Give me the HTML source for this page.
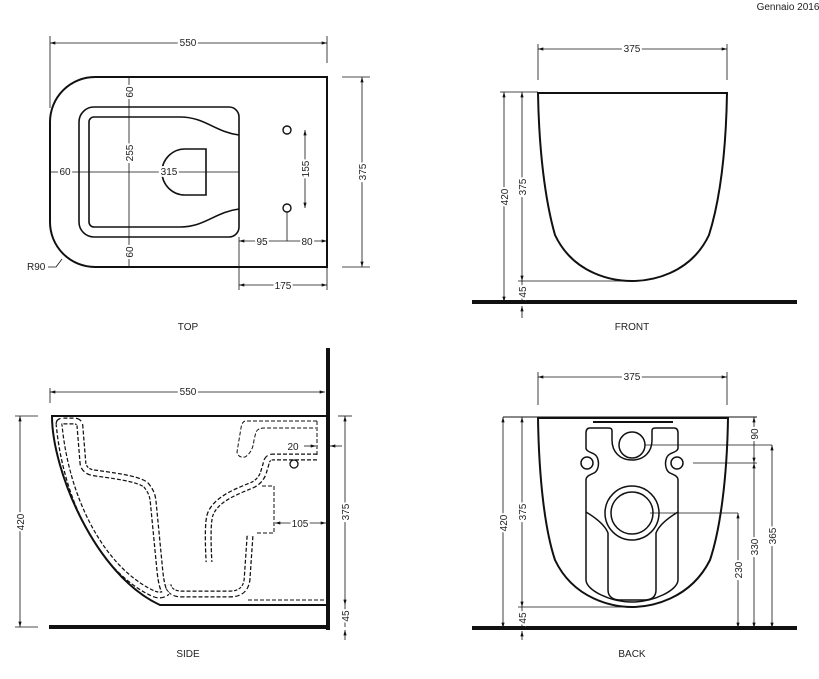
<!DOCTYPE html>
<html><head><meta charset="utf-8"><style>
html,body{margin:0;padding:0;background:#fff;}
svg{display:block;}
text{font-family:"Liberation Sans",sans-serif;font-size:10px;fill:#222;}
</style></head><body>
<svg width="819" height="679" viewBox="0 0 819 679" xmlns="http://www.w3.org/2000/svg">
<defs>
<marker id="a" viewBox="0 0 10 6" refX="10" refY="3" markerWidth="8" markerHeight="4" orient="auto-start-reverse"><path d="M0,0 L10,3 L0,6 Z" fill="#111"/></marker>
</defs>
<text x="788" y="10" text-anchor="middle" font-size="9">Gennaio 2016</text>

<g stroke="#111" fill="none">
<!-- TOP -->
<path d="M327,77 H95 A45,45 0 0 0 50,122 V222 A45,45 0 0 0 95,267 H327 Z" stroke-width="2"/>
<path d="M229,107 H94 A15,15 0 0 0 79,122 V222 A15,15 0 0 0 94,237 H229 A10,10 0 0 0 239,227 V117 A10,10 0 0 0 229,107" stroke-width="1.6"/>
<path d="M239,135 C215,132 205,117 180,117 H94 A5,5 0 0 0 89,122 V222 A5,5 0 0 0 94,227 H180 C205,227 215,212 239,209" stroke-width="1.6"/>
<path d="M206,149 H185 A23,23 0 0 0 185,195 H206 Z" stroke-width="1.6"/>
<circle cx="287" cy="130" r="4" stroke-width="1.4"/>
<circle cx="287" cy="208" r="4" stroke-width="1.4"/>
<g stroke-width="0.8">
<line x1="50" y1="43" x2="327" y2="43" marker-start="url(#a)" marker-end="url(#a)"/>
<line x1="50" y1="36" x2="50" y2="108"/><line x1="327" y1="36" x2="327" y2="63"/>
<line x1="362" y1="77" x2="362" y2="267" marker-start="url(#a)" marker-end="url(#a)"/>
<line x1="342" y1="77" x2="370" y2="77"/><line x1="342" y1="267" x2="370" y2="267"/>
<line x1="129" y1="77" x2="129" y2="267"/>
<line x1="50" y1="172" x2="239" y2="172"/>
<line x1="305" y1="130" x2="305" y2="208" marker-start="url(#a)" marker-end="url(#a)"/>
<line x1="239" y1="241" x2="327" y2="241" marker-start="url(#a)" marker-end="url(#a)"/>
<line x1="287" y1="212" x2="287" y2="241"/>
<line x1="239" y1="237" x2="239" y2="290"/><line x1="327" y1="267" x2="327" y2="290"/>
<line x1="239" y1="285" x2="327" y2="285" marker-start="url(#a)" marker-end="url(#a)"/>
<path d="M48,267 H56 L62,259"/>
</g>
</g>
<g>
<text x="188" y="46" text-anchor="middle" fill="#222" stroke="#fff" stroke-width="4" paint-order="stroke">550</text>
<text transform="translate(366,172) rotate(-90)" text-anchor="middle" stroke="#fff" stroke-width="4" paint-order="stroke">375</text>
<text transform="translate(133,92) rotate(-90)" text-anchor="middle" stroke="#fff" stroke-width="4" paint-order="stroke">60</text>
<text transform="translate(133,153) rotate(-90)" text-anchor="middle" stroke="#fff" stroke-width="4" paint-order="stroke">255</text>
<text transform="translate(133,252) rotate(-90)" text-anchor="middle" stroke="#fff" stroke-width="4" paint-order="stroke">60</text>
<text x="65" y="175" text-anchor="middle" stroke="#fff" stroke-width="4" paint-order="stroke">60</text>
<text x="169" y="175" text-anchor="middle" stroke="#fff" stroke-width="4" paint-order="stroke">315</text>
<text transform="translate(309,169) rotate(-90)" text-anchor="middle" stroke="#fff" stroke-width="4" paint-order="stroke">155</text>
<text x="262" y="245" text-anchor="middle" stroke="#fff" stroke-width="4" paint-order="stroke">95</text>
<text x="307" y="245" text-anchor="middle" stroke="#fff" stroke-width="4" paint-order="stroke">80</text>
<text x="283" y="289" text-anchor="middle" stroke="#fff" stroke-width="4" paint-order="stroke">175</text>
<text x="27" y="270">R90</text>
<text x="188" y="330" text-anchor="middle">TOP</text>
<text x="632" y="330" text-anchor="middle">FRONT</text>
<text x="188" y="657" text-anchor="middle">SIDE</text>
<text x="632" y="657" text-anchor="middle">BACK</text>
</g>

<!-- FRONT -->
<g stroke="#111" fill="none">
<line x1="472" y1="302" x2="797" y2="302" stroke-width="4"/>
<path d="M538,93 L727,93 C726,150 720,200 709,235 C690,275 650,281 632,281 C614,281 574,275 555,235 C545,200 539,150 538,93 Z" stroke-width="2"/>
<g stroke-width="0.8">
<line x1="538" y1="49" x2="727" y2="49" marker-start="url(#a)" marker-end="url(#a)"/>
<line x1="538" y1="44" x2="538" y2="80"/><line x1="727" y1="44" x2="727" y2="80"/>
<line x1="500" y1="92" x2="538" y2="92"/><line x1="518" y1="281" x2="632" y2="281"/>
<line x1="504" y1="92" x2="504" y2="302" marker-start="url(#a)" marker-end="url(#a)"/>
<line x1="522" y1="92" x2="522" y2="281" marker-start="url(#a)" marker-end="url(#a)"/>
<line x1="522" y1="281" x2="522" y2="302"/><line x1="522" y1="318" x2="522" y2="306" marker-end="url(#a)"/>
</g>
</g>
<text x="632" y="52" text-anchor="middle" stroke="#fff" stroke-width="4" paint-order="stroke">375</text>
<text transform="translate(508,197) rotate(-90)" text-anchor="middle" stroke="#fff" stroke-width="4" paint-order="stroke">420</text>
<text transform="translate(526,187) rotate(-90)" text-anchor="middle" stroke="#fff" stroke-width="4" paint-order="stroke">375</text>
<text transform="translate(526,292) rotate(-90)" text-anchor="middle" stroke="#fff" stroke-width="4" paint-order="stroke">45</text>

<!-- SIDE -->
<g stroke="#111" fill="none">
<line x1="328" y1="348" x2="328" y2="630" stroke-width="4"/>
<line x1="49" y1="627" x2="330" y2="627" stroke-width="4"/>
<g stroke-width="7" stroke-dasharray="4,2" stroke-linejoin="round">
<path id="c1" d="M59,424 Q59,421 63,421 H74 Q80,421 80,427 L83,464 Q85,472 95,473 C125,477 140,480 146,485 Q152,492 153,500 L160,572 Q162,590 166,593 Q160,597 152,593 C102,569 66,500 59,424"/>
<path id="c2" d="M317,457 H273 Q267,457 266,464 L263,474 Q259,483 250,486 C235,492 215,500 210,515 Q207,525 209,562"/>
<path id="c3" d="M250,536 L247,580 Q245,594 230,594 H182 Q170,594 168,585"/>
</g>
<g stroke="#fff" stroke-width="4.5">
<use href="#c1"/><use href="#c2"/><use href="#c3"/>
</g>
<path d="M326,416 H52 C52,470 95,575 160,605 H326" stroke-width="2"/>
<g stroke-width="1" stroke-dasharray="4,2">
<path d="M317,421 H246 Q242,421 241,428 L237,452 Q238,458 245,457 Q253,452 254,440 L256,432 Q258,428 264,428 H316"/>
<path d="M317,421 V457"/>
<path d="M274,486 V533 H256"/>
<path d="M262,486 H274"/>
<path d="M248,600 H326"/>
</g>
<circle cx="294" cy="464" r="4" stroke-width="1.3"/>
<g stroke-width="0.8">
<line x1="50" y1="392" x2="325" y2="392" marker-start="url(#a)" marker-end="url(#a)"/>
<line x1="50" y1="388" x2="50" y2="403"/>
<line x1="15" y1="416" x2="38" y2="416"/><line x1="15" y1="627" x2="38" y2="627"/>
<line x1="20" y1="416" x2="20" y2="627" marker-start="url(#a)" marker-end="url(#a)"/>
<line x1="338" y1="416" x2="352" y2="416"/>
<line x1="345" y1="416" x2="345" y2="605" marker-start="url(#a)" marker-end="url(#a)"/>
<line x1="345" y1="605" x2="345" y2="627"/><line x1="345" y1="640" x2="345" y2="630" marker-end="url(#a)"/>
<line x1="304" y1="446" x2="316" y2="446" marker-end="url(#a)"/>
<line x1="342" y1="446" x2="330" y2="446" marker-end="url(#a)"/>
<line x1="275" y1="523" x2="326" y2="523" marker-start="url(#a)" marker-end="url(#a)"/>
</g>
</g>
<text x="188" y="395" text-anchor="middle" stroke="#fff" stroke-width="4" paint-order="stroke">550</text>
<text transform="translate(24,522) rotate(-90)" text-anchor="middle" stroke="#fff" stroke-width="4" paint-order="stroke">420</text>
<text transform="translate(349,512) rotate(-90)" text-anchor="middle" stroke="#fff" stroke-width="4" paint-order="stroke">375</text>
<text transform="translate(349,616) rotate(-90)" text-anchor="middle" stroke="#fff" stroke-width="4" paint-order="stroke">45</text>
<text x="293" y="450" text-anchor="middle">20</text>
<text x="300" y="527" text-anchor="middle" stroke="#fff" stroke-width="4" paint-order="stroke">105</text>

<!-- BACK -->
<g stroke="#111" fill="none">
<line x1="472" y1="628" x2="797" y2="628" stroke-width="4"/>
<line x1="503" y1="417" x2="757" y2="417" stroke-width="1"/>
<path d="M538,418 L728,418 C727,480 720,530 710,560 C690,600 650,607 632,607 C614,607 574,600 555,560 C545,530 539,480 538,418 Z" stroke-width="2"/>
<line x1="593" y1="422" x2="673" y2="422" stroke-width="2"/>
<g stroke-width="1.5">
<path d="M612,431 C612,428 610,428 608,428 H590 C587,428 586,430 586,433 V448 C586,451 590,452 594,454 C600,457 600,470 594,473 C590,475 586,476 586,480 V580 C586,590 610,602 632,602 C654,602 678,590 678,580 V480 C678,476 674,475 670,473 C664,470 664,457 670,454 C674,452 678,451 678,448 V433 C678,430 677,428 674,428 H656 C654,428 652,428 652,431 V440 C652,452 644,460 632,460 C620,460 612,452 612,440 Z"/>
<circle cx="632" cy="445" r="13"/>
<circle cx="587" cy="463" r="6"/><circle cx="677" cy="463" r="6"/>
<circle cx="632" cy="513" r="27"/><circle cx="632" cy="513" r="21"/>
<path d="M586,512 C596,518 605,525 608,533 V590 C608,598 615,600 620,600 H644 C650,600 656,598 656,590 V533 C659,525 668,518 678,512"/>
</g>
<g stroke-width="0.8">
<line x1="538" y1="377" x2="727" y2="377" marker-start="url(#a)" marker-end="url(#a)"/>
<line x1="538" y1="372" x2="538" y2="405"/><line x1="727" y1="372" x2="727" y2="405"/>
<line x1="503" y1="417" x2="503" y2="628" marker-start="url(#a)" marker-end="url(#a)"/>
<line x1="522" y1="417" x2="522" y2="607" marker-start="url(#a)" marker-end="url(#a)"/>
<line x1="518" y1="607" x2="632" y2="607"/>
<line x1="522" y1="607" x2="522" y2="628"/><line x1="522" y1="640" x2="522" y2="631" marker-end="url(#a)"/>
<line x1="645" y1="445" x2="772" y2="445"/>
<line x1="693" y1="463" x2="757" y2="463"/>
<line x1="650" y1="513" x2="738" y2="513"/>
<line x1="754" y1="417" x2="754" y2="463" marker-start="url(#a)" marker-end="url(#a)"/>
<line x1="754" y1="463" x2="754" y2="628" marker-start="url(#a)" marker-end="url(#a)"/>
<line x1="772" y1="445" x2="772" y2="628" marker-start="url(#a)" marker-end="url(#a)"/>
<line x1="738" y1="513" x2="738" y2="628" marker-start="url(#a)" marker-end="url(#a)"/>
</g>
</g>
<text x="632" y="380" text-anchor="middle" stroke="#fff" stroke-width="4" paint-order="stroke">375</text>
<text transform="translate(507,523) rotate(-90)" text-anchor="middle" stroke="#fff" stroke-width="4" paint-order="stroke">420</text>
<text transform="translate(526,512) rotate(-90)" text-anchor="middle" stroke="#fff" stroke-width="4" paint-order="stroke">375</text>
<text transform="translate(526,618) rotate(-90)" text-anchor="middle" stroke="#fff" stroke-width="4" paint-order="stroke">45</text>
<text transform="translate(758,434) rotate(-90)" text-anchor="middle" stroke="#fff" stroke-width="4" paint-order="stroke">90</text>
<text transform="translate(758,547) rotate(-90)" text-anchor="middle" stroke="#fff" stroke-width="4" paint-order="stroke">330</text>
<text transform="translate(776,536) rotate(-90)" text-anchor="middle" stroke="#fff" stroke-width="4" paint-order="stroke">365</text>
<text transform="translate(742,570) rotate(-90)" text-anchor="middle" stroke="#fff" stroke-width="4" paint-order="stroke">230</text>
</svg>
</body></html>
